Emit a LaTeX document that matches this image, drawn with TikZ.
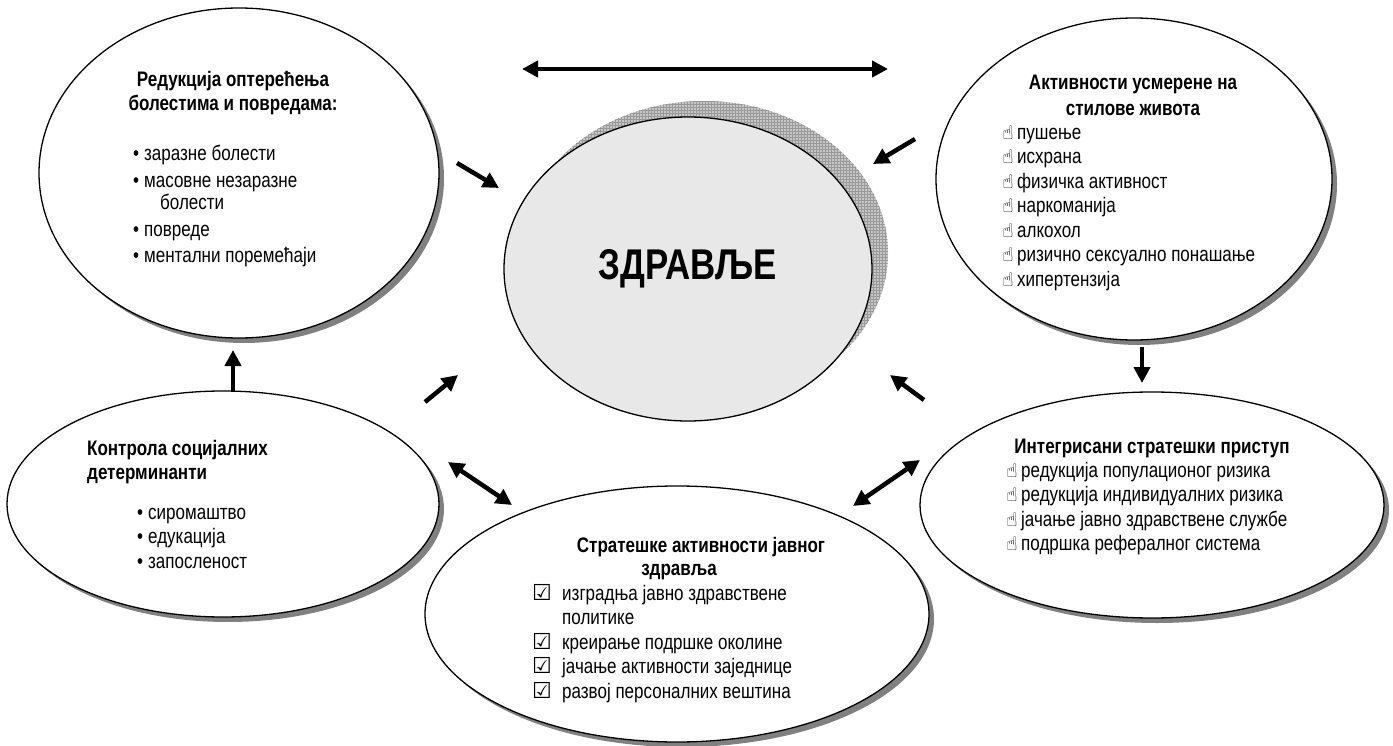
\documentclass[tikz,border=0pt]{standalone}
\usepackage{fontspec}
\setmainfont[FakeStretch=0.81]{Liberation Sans}
\newfontfamily\symfont{DejaVu Sans}
\usetikzlibrary{shapes.geometric, arrows.meta, shadows, patterns}
\definecolor{zdrfill}{gray}{0.91}
\newcommand\hnd{\makebox[15pt][l]{\symfont\fontsize{19}{19}\selectfont ☝}}
\newcommand\chk{\makebox[30pt][l]{\symfont\fontsize{22}{22}\selectfont ☑}}
\newcommand\dotb{\makebox[11pt][l]{•}}

\begin{document}
\begin{tikzpicture}[x=1pt, y=-1pt,
  blob/.style = {ellipse, draw, line width=1.3pt, fill=white, inner sep=0pt,
    drop shadow={shadow xshift=5pt, shadow yshift=-5pt, fill=gray, opacity=1}},
  txt/.style = {inner sep=0pt, align=left, font=\fontsize{21}{24.5}\selectfont},
  ttl/.style = {inner sep=0pt, align=center, font=\bfseries\fontsize{21}{24.5}\selectfont},
  arr/.style = {line width=4.5pt, -{Triangle[length=16pt, width=16pt]}},
  darr/.style = {line width=4.5pt, {Triangle[length=16pt, width=16pt]}-{Triangle[length=16pt, width=16pt]}}
  ]
  \useasboundingbox (0,0) rectangle (1393,746);

  % centre
  \node (zdrsh) at (704,253) [ellipse, minimum width=368pt, minimum height=304pt,
    preaction={fill=gray!45}, pattern=grid, pattern color=gray!80] {};
  \node (zdr) at (688,269) [ellipse, draw, line width=1.3pt, fill=zdrfill,
    minimum width=368pt, minimum height=304pt,
    font=\bfseries\fontsize{43}{43}\selectfont] {ЗДРАВЉЕ};

  % ellipses round it
  \node (red) at (239,173) [blob, minimum width=400pt, minimum height=330pt] {};
  \node (stil) at (1134,179) [blob, minimum width=396pt, minimum height=322pt] {};
  \node (soc) at (223,504) [blob, minimum width=432pt, minimum height=226pt] {};
  \node (int) at (1152,505) [blob, minimum width=464pt, minimum height=226pt] {};
  \node (jz) at (677,614) [blob, minimum width=504pt, minimum height=256pt] {};

  \node (redttl) at (233,69) [ttl, anchor=north] {\strut Редукција оптерећења\\болестима и повредама:};
  \node (redlst) at (133,143) [txt, anchor=north west]
    {\strut\dotb заразне болести\\[2.5pt]
     \dotb масовне незаразне\\[-2.5pt]
     \hspace*{27pt}болести\\[3pt]
     \dotb повреде\\[1.5pt]
     \dotb ментални поремећаји};

  \node (stilttl) at (1133,72) [ttl, anchor=north] {\strut Активности усмерене на\\[1.5pt]стилове живота};
  \node (stillst) at (1002,122) [txt, anchor=north west]
    {\strut\hnd пушење\\ \hnd исхрана\\ \hnd физичка активност\\ \hnd наркоманија\\
     \hnd алкохол\\ \hnd ризично сексуално понашање\\ \hnd хипертензија};

  \node (socttl) at (87,438) [ttl, align=left, anchor=north west] {\strut Контрола социјалних\\детерминанти};
  \node (soclst) at (137,502) [txt, anchor=north west]
    {\strut\dotb сиромаштво\\ \dotb едукација\\ \dotb запосленост};

  \node (intttl) at (1152,436) [ttl, anchor=north] {\strut Интегрисани стратешки приступ};
  \node (intlst) at (1006,460) [txt, anchor=north west]
    {\strut\hnd редукција популационог ризика\\ \hnd редукција индивидуалних ризика\\
     \hnd јачање јавно здравствене службе\\ \hnd подршка рефералног система};

  \node (jzttl) at (701,535) [ttl, anchor=north] {\strut Стратешке активности јавног\\[-1.5pt]здравља\hspace*{44pt}};
  \node (jzlst) at (532,583) [txt, anchor=north west]
    {\strut\chk изградња јавно здравствене\\ \hspace*{30pt}политике\\ \chk креирање подршке околине\\
     \chk јачање активности заједнице\\ \chk развој персоналних вештина};

  % free ends of the arrows
  \coordinate (topL) at (522,69);
  \coordinate (topR) at (888,69);
  \coordinate (redout) at (457,163);
  \coordinate (zdrNW) at (499,188);
  \coordinate (stilout) at (915,139);
  \coordinate (zdrNE) at (873,164);
  \coordinate (socout) at (425,402);
  \coordinate (zdrSW) at (458,375);
  \coordinate (intout) at (924,400);
  \coordinate (zdrSE) at (890,375);
  \coordinate (socup) at (233,392);
  \coordinate (redin) at (233,350);
  \coordinate (stildown) at (1142,347);
  \coordinate (intin) at (1142,383);
  \coordinate (socjz) at (448,462);
  \coordinate (jzsoc) at (512,505);
  \coordinate (jzint) at (853,506);
  \coordinate (intjz) at (920,460);

  \draw [darr] (topL) -- (topR);
  \draw [arr] (redout) -- (zdrNW);
  \draw [arr] (stilout) -- (zdrNE);
  \draw [arr] (socout) -- (zdrSW);
  \draw [arr] (intout) -- (zdrSE);
  \draw [arr] (socup) -- (redin);
  \draw [arr] (stildown) -- (intin);
  \draw [darr] (socjz) -- (jzsoc);
  \draw [darr] (jzint) -- (intjz);
\end{tikzpicture}
\end{document}
